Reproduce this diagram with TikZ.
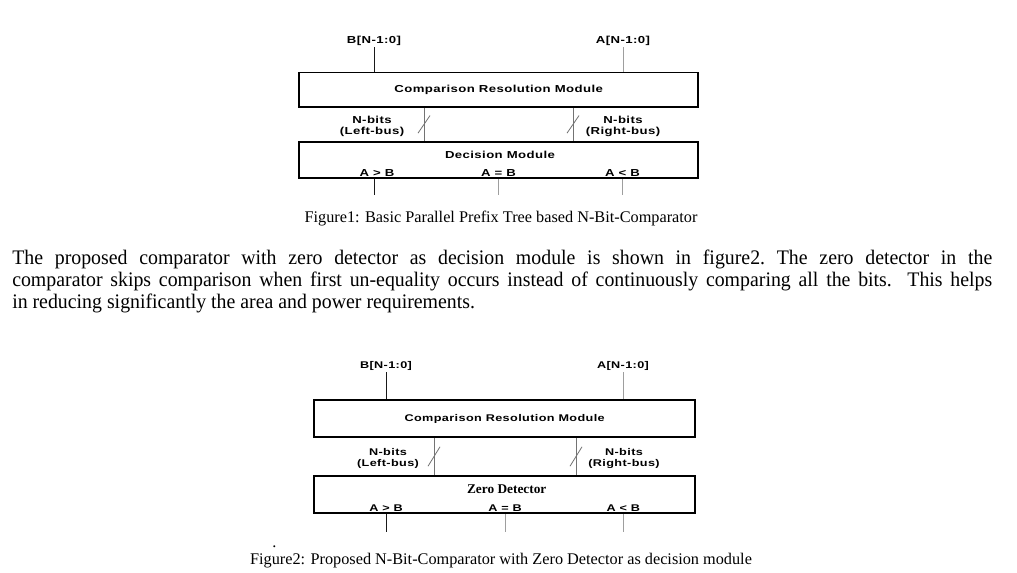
\documentclass[tikz,border=0pt]{standalone}
\usepackage{fontspec}
\setmainfont{Liberation Serif}
\newfontfamily\blockfont{Liberation Sans}[FakeStretch=1.3,LetterSpace=4]
\newfontfamily\bodyfont{Liberation Serif}[FakeStretch=0.96]
\usetikzlibrary{positioning}
\definecolor{DarkWire}{gray}{0.1}
\definecolor{BusWire}{gray}{0.45}
\definecolor{PaleWire}{gray}{0.62}
\tikzset{
  cmp font/.style={font=\blockfont\bfseries\fontsize{#1}{8pt}\selectfont},
  cmp box/.style={draw=black,line width=1.4pt,rectangle,inner sep=0pt,cmp font=7.6pt},
  cmp label/.style={cmp font=7.6pt,anchor=base,inner sep=1.5pt},
  dark wire/.style={draw=DarkWire,line width=.75pt},
  pale wire/.style={draw=PaleWire,line width=.75pt},
  bus wire/.style={draw=BusWire,line width=.75pt},
  bus tick/.style={draw=BusWire,line width=.6pt},
  caption text/.style={font=\fontsize{12.2pt}{14pt}\selectfont,anchor=base,inner sep=0pt},
  body text/.style={anchor=north west,inner sep=0pt,text width=735pt,align=justify,
    font=\bodyfont\fontsize{15.5pt}{16.5pt}\selectfont\frenchspacing}
}
\begin{document}
\begin{tikzpicture}[x=.75pt,y=-.75pt]
  \fill[white] (0,0) rectangle (1017,572);
  \useasboundingbox (0,0) rectangle (1017,572);
  % Figure 1
  \node[cmp label] (b1) at (374,43) {B[N-1:0]};
  \node[cmp label] (a1) at (623,43) {A[N-1:0]};
  \node[cmp box,minimum width=299pt,minimum height=25.9pt] (crm1) at (498.65,89.75) {Comparison Resolution Module};
  \node[cmp box,minimum width=299pt,minimum height=27.45pt] (dec1) at (498.65,160) {};
  \draw[dark wire] (b1.south) -- (b1.south |- crm1.north);
  \draw[pale wire] (a1.south) -- (a1.south |- crm1.north);
  \coordinate (lx1) at (424,0);
  \coordinate (rx1) at (573,0);
  \draw[bus wire] (crm1.south -| lx1) -- coordinate (lm1) (dec1.north -| lx1);
  \draw[bus wire] (crm1.south -| rx1) -- coordinate (rm1) (dec1.north -| rx1);
  \draw[bus tick] (lm1) ++(-6,8.8) -- ++(12,-17.6);
  \draw[bus tick] (rm1) ++(-6,8.8) -- ++(12,-17.6);
  \node[cmp label] (lbits1) at (372,123.5) {N-bits};
  \node[cmp label] (lbus1) at ([yshift=-8pt]lbits1.base) {(Left-bus)};
  \node[cmp label] (rbits1) at (623,123.5) {N-bits};
  \node[cmp label] (rbus1) at ([yshift=-8pt]rbits1.base) {(Right-bus)};
  \node[cmp label] (dm1) at (500,158.5) {Decision Module};
  \node[cmp label] (gt1) at (377,176) {A > B};
  \node[cmp label] (eq1) at (498.5,176) {A = B};
  \node[cmp label] (lt1) at (622.5,176) {A < B};
  \coordinate (gt1o) at (374.3,195);
  \coordinate (eq1o) at (498.3,195);
  \coordinate (lt1o) at (622.7,195);
  \draw[dark wire] (dec1.south -| gt1o) -- (gt1o);
  \draw[pale wire] (dec1.south -| eq1o) -- (eq1o);
  \draw[pale wire] (dec1.south -| lt1o) -- (lt1o);
  \node[caption text] (cap1) at (501,222.5) {Figure1: Basic Parallel Prefix Tree based N-Bit-Comparator};
  % text between the figures
  \node[body text] (para) at (12,250) {The proposed comparator with zero detector as decision module is shown in figure2. The zero detector in the\linebreak
    comparator skips comparison when first un-equality occurs instead of continuously comparing all the bits.\ \ This helps\linebreak
    in reducing significantly the area and power requirements.};
  % Figure 2
  \begin{scope}[cmp label/.append style={cmp font=7.3pt},cmp box/.append style={cmp font=7.3pt}]
  \node[cmp label] (b2) at (386,368) {B[N-1:0]};
  \node[cmp label] (a2) at (623,368) {A[N-1:0]};
  \node[cmp box,minimum width=286pt,minimum height=28pt] (crm2) at (504.65,418.65) {Comparison Resolution Module};
  \node[cmp box,minimum width=286pt,minimum height=28.2pt] (zd2) at (504.65,494.5) {};
  \draw[dark wire] (b2.south) -- (b2.south |- crm2.north);
  \draw[pale wire] (a2.south) -- (a2.south |- crm2.north);
  \coordinate (lx2) at (434,0);
  \coordinate (rx2) at (576,0);
  \draw[bus wire] (crm2.south -| lx2) -- coordinate (lm2) (zd2.north -| lx2);
  \draw[bus wire] (crm2.south -| rx2) -- coordinate (rm2) (zd2.north -| rx2);
  \draw[bus tick] (lm2) ++(-6,9.7) -- ++(12,-19.4);
  \draw[bus tick] (rm2) ++(-6,9.7) -- ++(12,-19.4);
  \node[cmp label] (lbits2) at (388,455) {N-bits};
  \node[cmp label] (lbus2) at ([yshift=-8.7pt]lbits2.base) {(Left-bus)};
  \node[cmp label] (rbits2) at (624,455) {N-bits};
  \node[cmp label] (rbus2) at ([yshift=-8.7pt]rbits2.base) {(Right-bus)};
  \node[caption text,font=\bfseries\fontsize{10pt}{12pt}\selectfont] (zdt2) at (506.7,493) {Zero Detector};
  \node[cmp label] (gt2) at (386,511.5) {A > B};
  \node[cmp label] (eq2) at (505,511.5) {A = B};
  \node[cmp label] (lt2) at (623.3,511.5) {A < B};
  \end{scope}
  \coordinate (gt2o) at (386,531.7);
  \coordinate (eq2o) at (505,531.7);
  \coordinate (lt2o) at (623.3,531.7);
  \draw[dark wire] (zd2.south -| gt2o) -- (gt2o);
  \draw[pale wire] (zd2.south -| eq2o) -- (eq2o);
  \draw[pale wire] (zd2.south -| lt2o) -- (lt2o);
  \node[caption text] (dot2) at (274.5,547) {.};
  \node[caption text] (cap2) at (501,564) {Figure2: Proposed N-Bit-Comparator with Zero Detector as decision module};
\end{tikzpicture}
\end{document}
